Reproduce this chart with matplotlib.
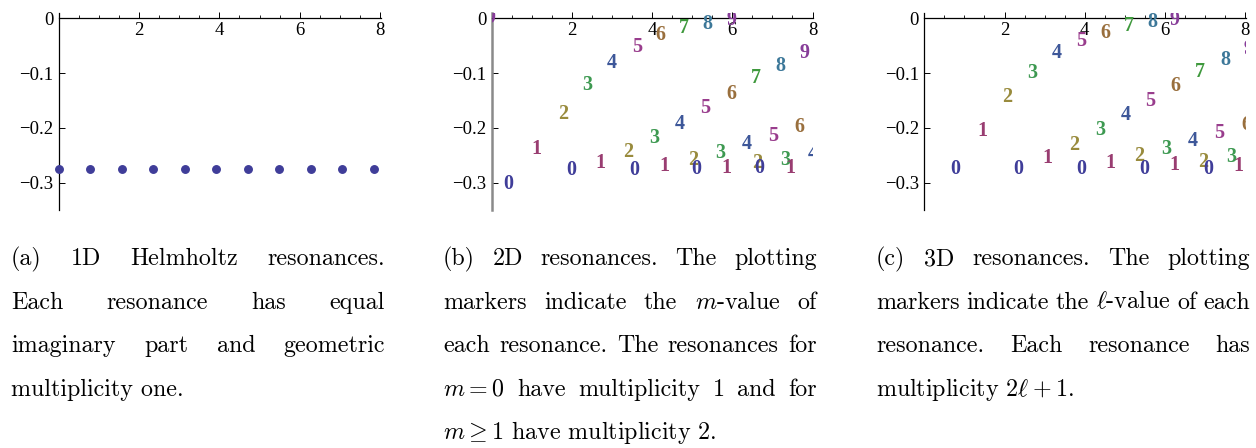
import matplotlib.pyplot as plt
from matplotlib.ticker import FixedLocator

plt.rcParams['mathtext.fontset'] = 'cm'

W, H = 1256, 448

# 1D Helmholtz resonances (Re k, Im k)
helm_x = [0.0, 0.785, 1.571, 2.356, 3.142, 3.927, 4.712, 5.498, 6.283, 7.069, 7.854]
helm_y = [-0.2747, -0.2747, -0.2747, -0.2747, -0.2747, -0.2747,
          -0.2747, -0.2747, -0.2747, -0.2747, -0.2747]

# 2D resonances, labelled by m
res2d_x = [0.424, 1.107, 1.773, 2.378, 3.00, 3.62, 4.20, 4.79, 5.39, 5.97,
           1.980, 2.712, 3.41, 4.05, 4.70, 5.33, 5.965, 6.58, 7.20, 7.81,
           3.55, 4.31, 5.03, 5.70, 6.37, 7.03, 7.67,
           5.09, 5.86, 6.61, 7.33, 8.00,
           6.68, 7.44,
           -0.03]
res2d_y = [-0.303, -0.239, -0.175, -0.121, -0.082, -0.052, -0.031, -0.017, -0.010, -0.003,
           -0.277, -0.264, -0.244, -0.218, -0.192, -0.164, -0.138, -0.109, -0.086, -0.064,
           -0.276, -0.270, -0.259, -0.245, -0.230, -0.215, -0.199,
           -0.275, -0.273, -0.264, -0.258, -0.247,
           -0.274, -0.273,
           0.0]
res2d_m = [0, 1, 2, 3, 4, 5, 6, 7, 8, 9,
           0, 1, 2, 3, 4, 5, 6, 7, 8, 9,
           0, 1, 2, 3, 4, 5, 6,
           0, 1, 2, 3, 4,
           0, 1,
           9]

# 3D resonances, labelled by l
res3d_x = [0.781, 1.446, 2.062, 2.686, 3.30, 3.90, 4.51, 5.095, 5.68, 6.24,
           2.353, 3.059, 3.733, 4.38, 5.02, 5.64, 6.26, 6.88, 7.50, 8.08,
           3.92, 4.647, 5.36, 6.03, 6.70, 7.36, 8.03,
           5.48, 6.225, 6.95, 7.65,
           7.07, 7.83]
res3d_y = [-0.2745, -0.205, -0.144, -0.099, -0.064, -0.041, -0.026, -0.014, -0.007, -0.002,
           -0.2745, -0.255, -0.2315, -0.204, -0.177, -0.150, -0.123, -0.097, -0.076, -0.055,
           -0.2745, -0.264, -0.252, -0.238, -0.224, -0.209, -0.194,
           -0.2745, -0.268, -0.262, -0.253,
           -0.2745, -0.270]
res3d_l = [0, 1, 2, 3, 4, 5, 6, 7, 8, 9,
           0, 1, 2, 3, 4, 5, 6, 7, 8, 9,
           0, 1, 2, 3, 4, 5, 6,
           0, 1, 2, 3,
           0, 1]

label_colors = ['#3f3d99', '#993d71', '#998b3d', '#3d9951', '#3d5799',
                '#993d8d', '#996f3d', '#3f993d', '#3d7899', '#873d99']

x_ticks = [2, 4, 6, 8]
y_ticks = [0, -0.1, -0.2, -0.3]
y_ticklabels = ['0', '\u22120.1', '\u22120.2', '\u22120.3']

captions = [
    [("(a) 1D Helmholtz resonances.", True),
     ("Each resonance has equal", True),
     ("imaginary part and geometric", True),
     ("multiplicity one.", False)],
    [("(b) 2D resonances. The plotting", True),
     ("markers indicate the $m$-value of", True),
     ("each resonance. The resonances for", True),
     ("$m=0$ have multiplicity 1 and for", True),
     ("$m\\geq1$ have multiplicity 2.", False)],
    [("(c) 3D resonances. The plotting", True),
     ("markers indicate the $\\ell$-value of each", True),
     ("resonance. Each resonance has", True),
     ("multiplicity $2\\ell+1$.", False)],
]

fig = plt.figure(figsize=(W / 100, H / 100), dpi=100)

axes_left = [59, 491.7, 924.3]
xmax = 8.02
ymin, ymax = -0.35, 0.01
px_per_unit = 40.1
ax_w = xmax * px_per_unit
ax_top, ax_bot = 13, 210


def setup_axes(ax, yaxis_color='black', yaxis_lw=0.9):
    ax.set_xlim(0, xmax)
    ax.set_ylim(ymin, ymax)
    for s in ['top', 'right']:
        ax.spines[s].set_visible(False)
    ax.spines['bottom'].set_position(('data', 0))
    ax.spines['bottom'].set_linewidth(0.9)
    ax.spines['left'].set_color(yaxis_color)
    ax.spines['left'].set_linewidth(yaxis_lw)
    ax.xaxis.set_major_locator(FixedLocator(x_ticks))
    ax.xaxis.set_minor_locator(FixedLocator([0.5, 1, 1.5, 2.5, 3, 3.5, 4.5, 5, 5.5,
                                             6.5, 7, 7.5]))
    ax.set_yticks(y_ticks)
    ax.set_yticklabels(y_ticklabels)
    ax.set_xticklabels([str(t) for t in x_ticks])
    ax.tick_params(axis='x', which='major', direction='in', length=4.5, width=0.7, pad=2.8)
    ax.tick_params(axis='x', which='minor', direction='in', length=2.5, width=0.6)
    ax.tick_params(axis='y', which='major', direction='in', length=4, width=0.7, pad=4)
    for lab in ax.get_xticklabels() + ax.get_yticklabels():
        lab.set_fontfamily('Liberation Serif')
        lab.set_fontsize(13.5)
    ax.set_facecolor('none')


axs = []
for i, left in enumerate(axes_left):
    ax = fig.add_axes([left / W, 1 - ax_bot / H, ax_w / W, (ax_bot - ax_top) / H])
    axs.append(ax)

setup_axes(axs[0])
axs[0].plot(helm_x, helm_y, 'o', color=label_colors[0], ms=5.4, clip_on=False, zorder=3)

setup_axes(axs[1], yaxis_color='#8a8a8a', yaxis_lw=1.8)
for x, y, m in zip(res2d_x, res2d_y, res2d_m):
    axs[1].text(x, y, str(m), color=label_colors[m], ha='center', va='center',
                fontfamily='Liberation Serif', fontweight='bold', fontsize=14.5,
                clip_on=True)

setup_axes(axs[2])
for x, y, l in zip(res3d_x, res3d_y, res3d_l):
    axs[2].text(x, y, str(l), color=label_colors[l], ha='center', va='center',
                fontfamily='Liberation Serif', fontweight='bold', fontsize=14.5,
                clip_on=True)

# captions, justified line by line
cap_left = [11, 443, 876]
cap_width = 374
base_y = 265
line_step = 43.6
cap_size = 17.3
renderer = fig.canvas.get_renderer()

for x0, lines in zip(cap_left, captions):
    for i, (line, justify) in enumerate(lines):
        y = 1 - (base_y + i * line_step) / H
        if not justify:
            fig.text(x0 / W, y, line, fontfamily='cmr10', fontsize=cap_size,
                     va='baseline', ha='left')
            continue
        words = line.split(' ')
        texts = [fig.text(0, y, w, fontfamily='cmr10', fontsize=cap_size,
                          va='baseline', ha='left') for w in words]
        widths = [t.get_window_extent(renderer).width for t in texts]
        gap = (cap_width - sum(widths)) / (len(words) - 1)
        xpos = x0
        for t, wd in zip(texts, widths):
            t.set_x(xpos / W)
            xpos += wd + gap

fig.savefig('out.png', dpi=100)
